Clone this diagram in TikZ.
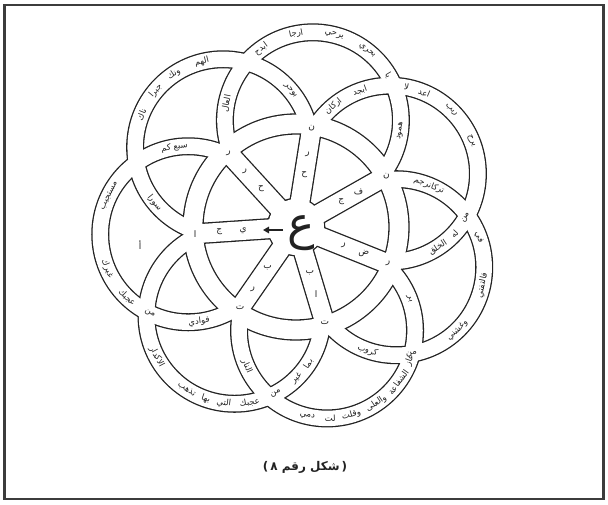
\documentclass[tikz,border=0pt]{standalone}
\usepackage{fontspec}
\usetikzlibrary{calc, arrows.meta}
\newfontfamily\arabicfont[Script=Arabic]{DejaVu Sans}
\newfontfamily\plainfont{DejaVu Sans}
\TeXXeTstate=1
\definecolor{rsink}{HTML}{222222}
\definecolor{rsframe}{HTML}{3C3C3C}
% one word set upright along a band: centre, radius, angle, word
\newcommand{\rsword}[4]{%
  \pgfmathsetmacro{\rsrot}{sin(#3)>0 ? #3-90 : #3+90}%
  \node[bandtxt, rotate=\rsrot] at ($(#1)+(#3:#2)$) {\arabicfont\beginR #4\endR};}

\begin{document}
\begin{tikzpicture}[x=1pt, y=1pt,
    bandblk/.style={draw=rsink, line width=18pt},
    bandwht/.style={draw=white, line width=15.4pt},
    rimblk/.style={draw=rsink, line width=21.3pt},
    rimwht/.style={draw=white, line width=18.7pt},
    bandtxt/.style={font=\fontsize{8.5}{9}\selectfont, text=rsink, inner sep=0pt},
    spoketxt/.style={font=\fontsize{9}{9}\selectfont, text=rsink, inner sep=0pt},
  ]
\useasboundingbox (0,0) rectangle (608,504);
\draw[rsframe, line width=2.6pt] (4.5,5) rectangle (603.5,499);

% =========================================================================
% the rosette: seven petals round a wheel of seven spokes
% =========================================================================
\coordinate (C) at (296,277);
\foreach \k in {0,...,6}
  \coordinate (c\k) at ($(C)+({81+\k*360/7}:108)$);

% ---- ink edges ----------------------------------------------------------
\begin{scope}[even odd rule]
  \clip (0,504) rectangle (608,0) (C) circle[radius=103];
  \foreach \k in {0,...,6}
    \draw[bandblk] (c\k) circle[radius=88];
\end{scope}
\draw[rimblk] (C) circle[radius=103];
\foreach \k in {0,...,6}
  \draw[rimblk] (C) -- ($(C)+({81+\k*360/7}:103)$);
\fill[rsink] (C) circle[radius=29.3];

% ---- white bodies -------------------------------------------------------
\begin{scope}[even odd rule]
  \clip (0,504) rectangle (608,0) (C) circle[radius=103];
  \foreach \k in {0,...,6}
    \draw[bandwht] (c\k) circle[radius=88];
\end{scope}
\draw[rimwht] (C) circle[radius=103];
\foreach \k in {0,...,6}
  \draw[rimwht] (C) -- ($(C)+({81+\k*360/7}:103)$);
\fill[white] (C) circle[radius=28];

% =========================================================================
% hub letter and the letters on the spokes
% =========================================================================
\node[font=\arabicfont\fontsize{46}{46}\selectfont, text=rsink, inner sep=0pt]
  (ain) at (301,271) {ع};
\coordinate (arrowtip) at (263,274);
\draw[rsink, line width=2.2pt, -{Triangle[length=6pt, width=6.5pt]}]
  (283,274) -- (arrowtip);

\foreach \a/\d/\t in {183.86/53/ي, 183.86/77/ج, 183.86/101/ا,
                      132.43/52/ح, 132.43/76/ر, 132.43/100/ر,
                      81/53/ح, 81/74/ر, 81/100/ن,
                      29.57/52/ج, 29.57/72/ف, 29.57/104/ن,
                      338.43/51/ر, 338.43/73/ض, 338.43/99/ر,
                      286.71/48/ب, 286.71/70/ا, 286.71/100/ت,
                      235.29/50/ب, 235.29/76/ر, 235.29/98/ت}
  \node[spoketxt] at ($(C)+(\a:\d)$) {\arabicfont \t};
\node[spoketxt] (alef) at (140,259) {\arabicfont أ};

% =========================================================================
% words along the petals
% =========================================================================
% top petal
\foreach \a/\w in {126/ابدح, 101/ارجا, 76/يرحي, 52/بحري, 31/يا, 169/العال, -7/همود}
  {\rsword{c0}{88}{\a}{\w}}
% upper left petal
\foreach \a/\w in {158/ناك, 140/جبرا, 124/ونك, 104/الهم, 40/بوحر, 219/سورا}
  {\rsword{c1}{88}{\a}{\w}}
% left petal
\foreach \a/\w in {154/مستجيب, 203/غيرك, 226/عجبك, 99/سبع كم, 244/من, 277/فوادي}
  {\rsword{c2}{88}{\a}{\w}}
% lower left petal
\foreach \a/\w in {298/من, 280/عجبك, 263/التي, 251/بها, 237/تذهب, 208/الاكدار, 327/بما, 315/غير}
  {\rsword{c3}{88}{\a}{\w}}
% lower right petal
\foreach \a/\w in {340/عاز, 324/الشفاعة, 304/والعلى, 286/وقلت, 272/لت, 257/دمي, 204/النار, 21/بر}
  {\rsword{c4}{88}{\a}{\w}}
% right petal
\foreach \a/\w in {280/من, 251/كروب, -12/فالتفتي, -46/وغشني, 20/في, 68/تركانرجم}
  {\rsword{c5}{88}{\a}{\w}}
% upper right petal
\foreach \a/\w in {79/لا, 67/اعد, 46/ربب, 22/يرح, -30/من, -43/له, -57/الخلق, 130/اركان, 110/ابجد}
  {\rsword{c6}{88}{\a}{\w}}

% caption
\node[font=\bfseries\fontsize{12}{12}\selectfont, text=rsink]
  (caption) at (305,37)
  {{\plainfont(}\,{\arabicfont\beginR شكل رقم ٨\endR}\,{\plainfont)}};
\end{tikzpicture}
\end{document}
